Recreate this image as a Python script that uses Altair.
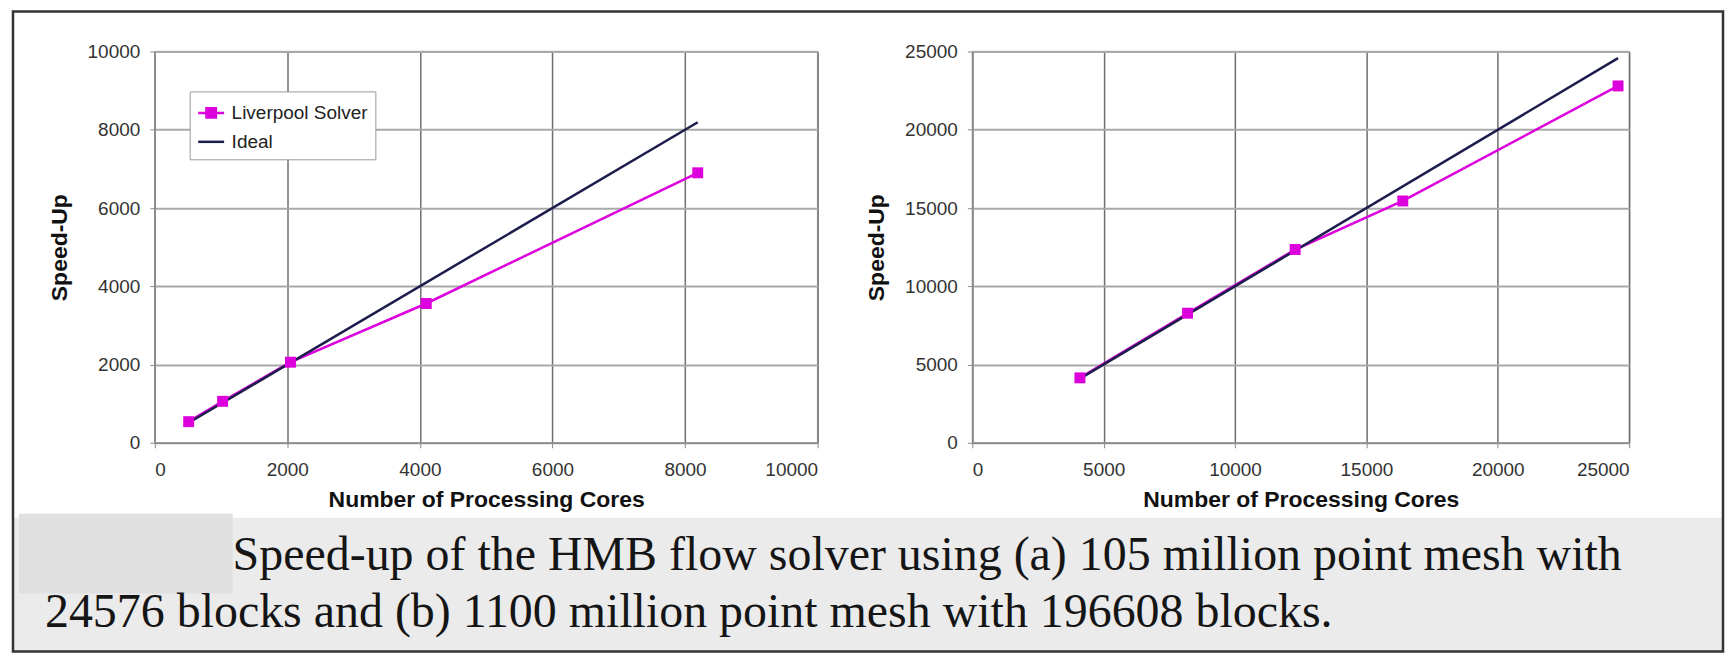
import altair as alt
import pandas as pd

# ---------------- data ----------------
series_names = ["Liverpool Solver", "Ideal"]

a_cores = [512, 1024, 2048, 4096, 8192]
a_speedup = [540, 1060, 2060, 3560, 6900]
a_ideal_cores = [512, 8192]
a_ideal_speedup = [512, 8192]
a_ticks = [0, 2000, 4000, 6000, 8000, 10000]

b_cores = [4096, 8192, 12288, 16384, 24576]
b_speedup = [4150, 8280, 12350, 15450, 22800]
b_ideal_cores = [4096, 24576]
b_ideal_speedup = [4096, 24576]
b_ticks = [0, 5000, 10000, 15000, 20000, 25000]

x_title = "Number of Processing Cores"
y_title = "Speed-Up"
caption_lines = [
    "Speed-up of the HMB flow solver using (a) 105 million point mesh with",
    "24576 blocks and (b) 1100 million point mesh with 196608 blocks.",
]

SOLVER_COLOR = "#dc00dc"
IDEAL_COLOR = "#1d1d4d"
# legend sample: short line with a square marker / plain line
SYM_SOLVER = "M-1,0H1M-0.36,-0.36H0.36V0.36H-0.36Z"
SYM_IDEAL = "M-1,0H1"


def make_df(cores, speed, icores, ispeed):
    rows = []
    for c, s in zip(cores, speed):
        rows.append({"cores": c, "speedup": s, "series": series_names[0]})
    for c, s in zip(icores, ispeed):
        rows.append({"cores": c, "speedup": s, "series": series_names[1]})
    return pd.DataFrame(rows)


def legend():
    return alt.Legend(
        title=None, orient="none", legendX=35, legendY=40,
        fillColor="white", strokeColor="#9a9a9a", padding=7,
        labelFont="Liberation Sans", labelFontSize=19, labelColor="#222",
        symbolSize=676, symbolStrokeWidth=2.5, symbolFillColor=SOLVER_COLOR,
        rowPadding=4, labelOffset=6,
    )


def panel(df, ticks, w, h, extra=()):
    dom = [ticks[0], ticks[-1]]
    x = alt.X(
        "cores:Q",
        scale=alt.Scale(domain=dom, nice=False, zero=True),
        axis=alt.Axis(
            values=ticks, title=x_title, format="d",
            gridColor="#6f6f6f", gridWidth=1.5,
            labelPadding=13, titlePadding=9,
        ),
    )
    y = alt.Y(
        "speedup:Q",
        scale=alt.Scale(domain=dom, nice=False, zero=True),
        axis=alt.Axis(
            values=ticks, title=y_title, format="d",
            gridColor="#a9a9a9", gridWidth=2,
            labelPadding=10, titlePadding=16,
        ),
    )
    cscale = alt.Scale(domain=series_names, range=[SOLVER_COLOR, IDEAL_COLOR])
    color = alt.Color("series:N", scale=cscale, legend=legend())
    shape = alt.Shape(
        "series:N",
        scale=alt.Scale(domain=series_names, range=[SYM_SOLVER, SYM_IDEAL]),
        legend=legend(),
    )
    base = alt.Chart(df)
    solver_line = base.transform_filter(
        alt.datum.series == series_names[0]
    ).mark_line(strokeWidth=2.5).encode(x=x, y=y, color=color, shape=shape)
    ideal_line = base.transform_filter(
        alt.datum.series == series_names[1]
    ).mark_line(strokeWidth=2.5).encode(x=x, y=y, color=color, shape=shape)
    pts = base.transform_filter(
        alt.datum.series == series_names[0]
    ).mark_point(shape="square", filled=True, size=120, opacity=1).encode(
        x=x, y=y, color=alt.Color("series:N", scale=cscale, legend=None)
    )
    return alt.layer(*extra, solver_line, ideal_line, pts).properties(
        width=w, height=h,
        view=alt.ViewBackground(stroke="#c4c4c4", strokeWidth=1.5, fill="white"),
    )


# ---------------- caption / frame decoration (drawn with the left panel) ----------------
one = pd.DataFrame({"k": [0]})
cap_bg = alt.Chart(one).mark_rect(fill="#ebebeb").encode(
    x=alt.value(-142), x2=alt.value(1571), y=alt.value(467), y2=alt.value(601)
)
cap_mask = alt.Chart(one).mark_rect(fill="#e0e0e0").encode(
    x=alt.value(-136), x2=alt.value(78), y=alt.value(463), y2=alt.value(543)
)
cap_df = pd.DataFrame({"line": [0, 1], "text": caption_lines})
txt1 = alt.Chart(cap_df).transform_filter(alt.datum.line == 0).mark_text(
    font="Liberation Serif", fontSize=48, align="left", baseline="alphabetic", color="#151515"
).encode(text="text:N", x=alt.value(78), y=alt.value(519))
txt2 = alt.Chart(cap_df).transform_filter(alt.datum.line == 1).mark_text(
    font="Liberation Serif", fontSize=48, align="left", baseline="alphabetic", color="#151515"
).encode(text="text:N", x=alt.value(-110), y=alt.value(577))
frame = alt.Chart(one).mark_rect(filled=False, stroke="#333333", strokeWidth=2.5).encode(
    x=alt.value(-142), x2=alt.value(1571), y=alt.value(-40), y2=alt.value(601)
)

left = panel(make_df(a_cores, a_speedup, a_ideal_cores, a_ideal_speedup), a_ticks, 664, 392,
             extra=(cap_bg, cap_mask, txt1, txt2, frame))
right = panel(make_df(b_cores, b_speedup, b_ideal_cores, b_ideal_speedup), b_ticks, 658, 392)

chart = alt.hconcat(left, right, spacing=155, bounds="flush").properties(
    padding={"left": 3, "top": 1, "right": 0, "bottom": 0},
    background="white",
).configure_axis(
    labelFont="Liberation Sans", labelFontSize=19, labelColor="#333333",
    titleFont="Liberation Sans", titleFontSize=23, titleFontWeight="bold", titleColor="#111111",
    domainColor="#8a8a8a", domainWidth=1.5, tickColor="#8a8a8a", tickSize=5,
).configure_view(stroke="#c4c4c4")

chart.save("out.html", embed_options={"renderer": "svg", "actions": False})
